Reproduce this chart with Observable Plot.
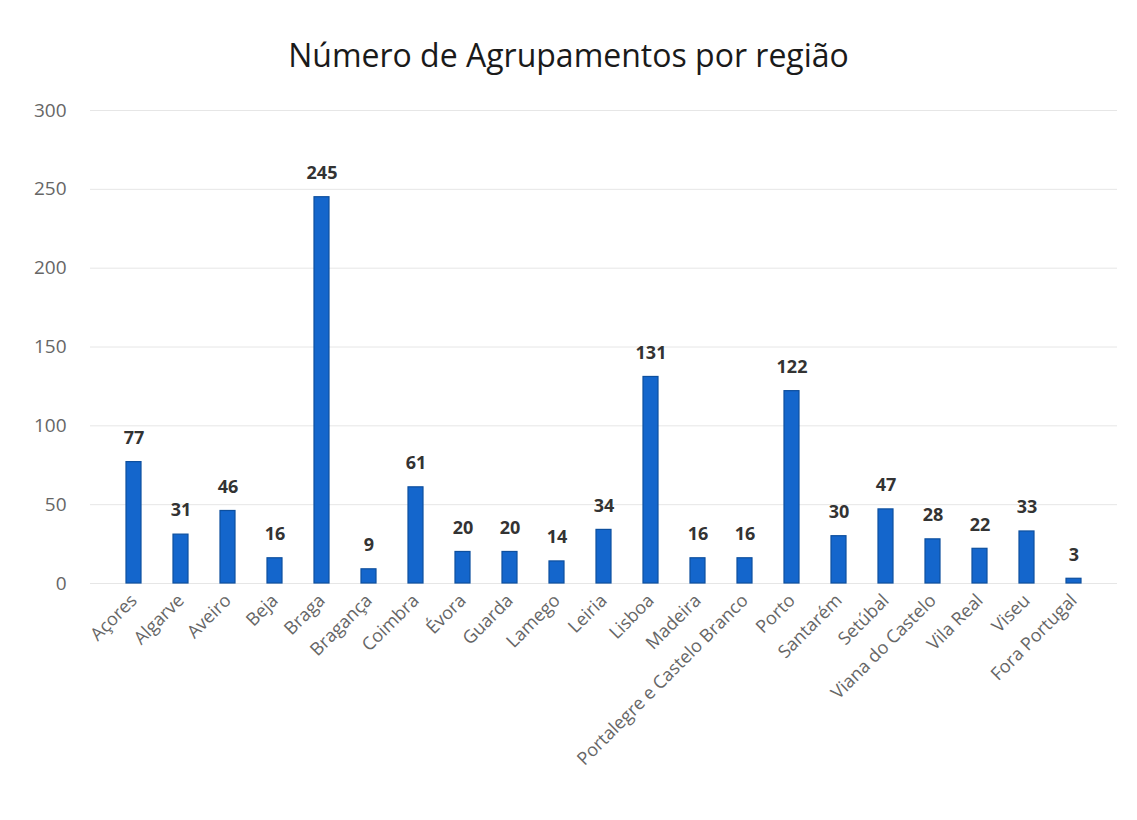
<!DOCTYPE html>
<html><head><meta charset="utf-8">
<script src="https://cdn.jsdelivr.net/npm/d3@7"></script>
<script src="https://cdn.jsdelivr.net/npm/@observablehq/plot@0.6"></script>
<style>
body{margin:0;background:#fff;font-family:"Open Sans",sans-serif;}
#title{height:90px;box-sizing:border-box;padding-top:33px;text-align:center;font-size:32px;color:#1a1a1a;line-height:44px;}
#chart svg{display:block;}
</style>
</head><body>
<div id="title">Número de Agrupamentos por região</div>
<div id="chart"></div>
<script>
const regions = ["Açores","Algarve","Aveiro","Beja","Braga","Bragança","Coimbra","Évora","Guarda","Lamego","Leiria","Lisboa","Madeira","Portalegre e Castelo Branco","Porto","Santarém","Setúbal","Viana do Castelo","Vila Real","Viseu","Fora Portugal"];
const counts = [77,31,46,16,245,9,61,20,20,14,34,131,16,16,122,30,47,28,22,33,3];
const yTicks = [0,50,100,150,200,250,300];
const data = regions.map((r,i)=>({region:r,count:counts[i]}));
const chart = Plot.plot({
  width:1137, height:730, marginTop:20, marginLeft:90, marginRight:20, marginBottom:237,
  style:{fontFamily:"Open Sans", fontSize:"18px", color:"#666", background:"#fff"},
  x:{domain:regions, padding:0.69, label:null},
  y:{domain:[0,300], label:null},
  marks:[
    Plot.gridY(yTicks,{stroke:"#e6e6e6", strokeOpacity:1}),
    Plot.barY(data,{x:"region",y:"count",fill:"#1466cc",stroke:"#0d4f9e",strokeWidth:1.2}),
    Plot.text(data,{x:"region",y:"count",text:d=>String(d.count),dy:-24,fontWeight:"bold",fill:"#333",fontSize:18}),
    Plot.axisY(yTicks,{tickSize:0,tickPadding:24,fontSize:19,label:null}),
    Plot.axisX({tickRotate:-45,tickSize:0,tickPadding:14,fontSize:18,label:null})
  ]
});
document.getElementById("chart").append(chart);
</script>
</body></html>
